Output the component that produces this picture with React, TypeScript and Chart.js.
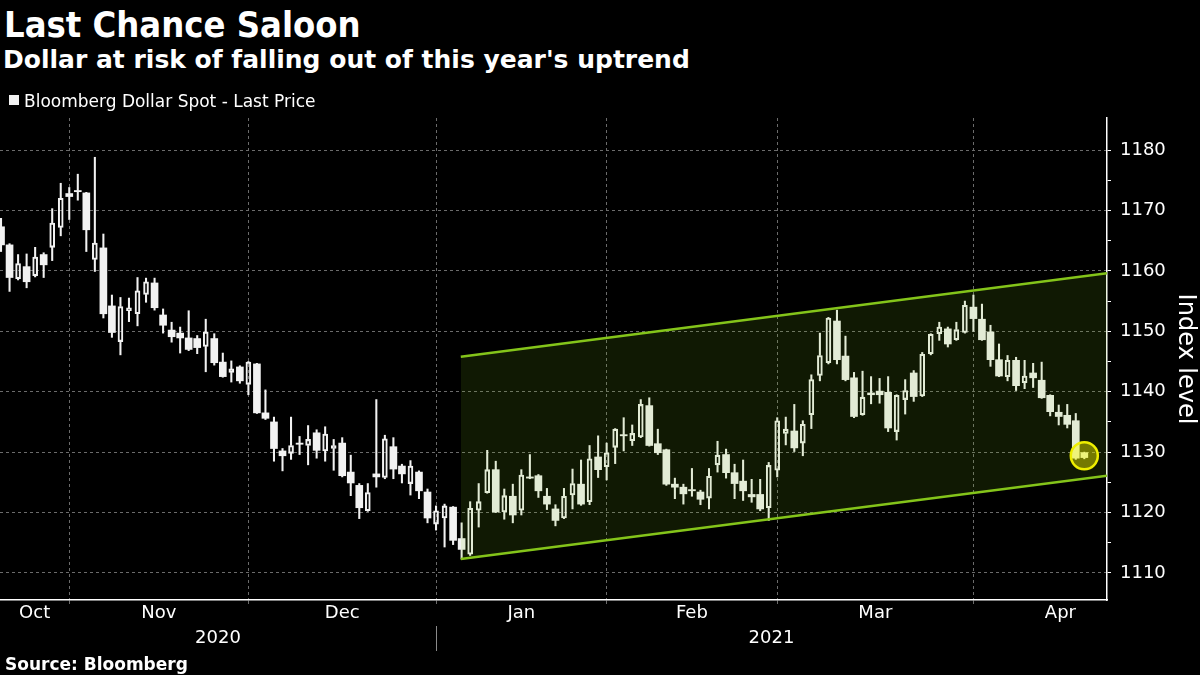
import { useEffect, useRef } from 'react';
import { Chart, registerables } from 'chart.js';

Chart.register(...registerables);

const FONT = "'DejaVu Sans', sans-serif";
const FONT_COND = "'DejaVu Sans Condensed', 'DejaVu Sans', sans-serif";
Chart.defaults.font.family = FONT;

// ---- Trading days (categories) ----
const daysOct2020 = ['21', '22', '23', '26', '27', '28', '29', '30'];
const daysNov2020 = ['02', '03', '04', '05', '06', '09', '10', '11', '12', '13', '16', '17', '18', '19', '20', '23', '24', '25', '26', '27', '30'];
const daysDec2020 = ['01', '02', '03', '04', '07', '08', '09', '10', '11', '14', '15', '16', '17', '18', '21', '22', '23', '24', '28', '29', '30', '31'];
const daysJan2021 = ['04', '05', '06', '07', '08', '11', '12', '13', '14', '15', '18', '19', '20', '21', '22', '25', '26', '27', '28', '29'];
const daysFeb2021 = ['01', '02', '03', '04', '05', '08', '09', '10', '11', '12', '15', '16', '17', '18', '19', '22', '23', '24', '25', '26'];
const daysMar2021 = ['01', '02', '03', '04', '05', '08', '09', '10', '11', '12', '15', '16', '17', '18', '19', '22', '23', '24', '25', '26', '29', '30', '31'];
const daysApr2021 = ['01', '02', '05', '06', '07', '08', '09', '12', '13', '14', '15', '16', '19', '20'];

const dates: string[] = [
  ...daysOct2020.map((d) => `2020-10-${d}`),
  ...daysNov2020.map((d) => `2020-11-${d}`),
  ...daysDec2020.map((d) => `2020-12-${d}`),
  ...daysJan2021.map((d) => `2021-01-${d}`),
  ...daysFeb2021.map((d) => `2021-02-${d}`),
  ...daysMar2021.map((d) => `2021-03-${d}`),
  ...daysApr2021.map((d) => `2021-04-${d}`),
];

// ---- Bloomberg Dollar Spot OHLC ----
const open = [
  1167.3, 1164.3, 1158.7, 1160.7, 1159.2, 1162.7, 1163.9, 1167.2, 1172.8, 1173.3,
  1172.9, 1161.9, 1163.8, 1154.2, 1148.3, 1153.4, 1152.9, 1156.1, 1158.0, 1152.7,
  1150.2, 1149.7, 1148.9, 1148.8, 1147.5, 1148.8, 1144.9, 1143.2, 1144.1, 1141.2,
  1144.6, 1136.5, 1135.0, 1130.2, 1129.8, 1131.5, 1131.1, 1133.2, 1130.2, 1130.6,
  1131.5, 1126.7, 1124.5, 1120.3, 1126.4, 1125.8, 1130.9, 1127.7, 1124.8, 1126.7,
  1123.4, 1118.1, 1119.1, 1120.9, 1115.7, 1113.1, 1120.4, 1123.3, 1127.1, 1120.1,
  1122.7, 1120.4, 1125.9, 1126.1, 1122.7, 1120.6, 1119.1, 1122.9, 1124.7, 1121.8,
  1129.2, 1127.6, 1130.8, 1132.9, 1131.9, 1132.5, 1137.7, 1131.4, 1130.4, 1124.7,
  1124.2, 1123.8, 1123.4, 1122.4, 1127.9, 1129.6, 1126.6, 1125.2, 1123.0, 1123.0,
  1120.8, 1127.0, 1133.1, 1133.5, 1131.5, 1136.2, 1142.7, 1144.8, 1151.7, 1145.9,
  1142.3, 1136.2, 1139.8, 1140.1, 1139.9, 1133.4, 1138.7, 1143.1, 1139.3, 1146.3,
  1149.6, 1150.4, 1148.6, 1149.8, 1154.0, 1152.0, 1149.9, 1145.3, 1142.5, 1145.2,
  1141.5, 1143.1, 1141.9, 1139.4, 1136.6, 1136.1, 1135.2, 1129.9,
];
const high = [
  1168.7, 1164.5, 1162.7, 1162.8, 1163.9, 1163.0, 1170.3, 1174.5, 1173.8, 1176.0,
  1173.0, 1178.8, 1166.1, 1156.0, 1155.6, 1155.5, 1158.9, 1158.8, 1158.8, 1153.7,
  1151.5, 1150.7, 1153.4, 1149.3, 1152.0, 1149.6, 1146.4, 1145.1, 1144.3, 1145.0,
  1144.7, 1140.3, 1135.8, 1130.6, 1135.8, 1132.6, 1134.4, 1133.7, 1134.2, 1132.1,
  1132.4, 1129.5, 1124.8, 1124.8, 1138.7, 1132.8, 1132.4, 1128.0, 1128.6, 1126.9,
  1123.9, 1121.1, 1121.4, 1121.0, 1118.3, 1121.8, 1124.8, 1130.3, 1128.5, 1123.9,
  1124.7, 1127.1, 1129.6, 1126.3, 1124.0, 1121.3, 1124.0, 1127.2, 1128.7, 1131.1,
  1132.7, 1131.5, 1133.9, 1135.7, 1134.5, 1138.7, 1139.0, 1133.8, 1130.5, 1125.7,
  1124.7, 1127.3, 1123.7, 1127.3, 1131.8, 1130.5, 1128.0, 1128.7, 1125.5, 1125.5,
  1128.3, 1135.7, 1135.8, 1137.9, 1135.2, 1142.8, 1149.7, 1152.3, 1153.5, 1149.2,
  1143.2, 1143.4, 1142.5, 1142.2, 1142.5, 1139.5, 1142.0, 1143.5, 1146.5, 1149.6,
  1151.5, 1150.7, 1151.5, 1155.0, 1156.0, 1154.5, 1151.0, 1147.9, 1146.0, 1145.7,
  1145.2, 1144.7, 1144.9, 1139.5, 1137.8, 1137.9, 1136.4, 1130.0,
];
const low = [
  1163.2, 1156.6, 1158.5, 1157.2, 1159.0, 1158.9, 1161.7, 1165.8, 1168.5, 1171.7,
  1163.2, 1159.9, 1152.2, 1149.0, 1146.1, 1151.6, 1150.9, 1154.8, 1153.5, 1149.7,
  1148.2, 1146.4, 1146.8, 1146.3, 1143.3, 1144.4, 1142.4, 1141.6, 1141.4, 1139.5,
  1136.4, 1135.4, 1128.5, 1126.9, 1128.8, 1129.6, 1127.9, 1129.0, 1128.5, 1127.0,
  1125.9, 1122.8, 1119.0, 1120.2, 1124.2, 1125.6, 1125.6, 1124.9, 1122.9, 1122.3,
  1118.3, 1117.1, 1114.3, 1114.7, 1112.3, 1112.9, 1117.6, 1123.2, 1120.0, 1118.9,
  1118.3, 1119.6, 1125.6, 1122.5, 1120.5, 1117.8, 1119.0, 1120.6, 1121.2, 1121.3,
  1125.8, 1125.4, 1128.1, 1130.2, 1131.1, 1132.4, 1131.0, 1129.6, 1124.5, 1122.3,
  1121.4, 1122.7, 1121.3, 1120.6, 1126.7, 1125.7, 1122.3, 1122.0, 1121.7, 1120.3,
  1118.7, 1125.9, 1131.2, 1130.1, 1129.4, 1133.9, 1141.8, 1144.6, 1144.6, 1141.8,
  1135.7, 1136.1, 1138.0, 1138.1, 1133.4, 1132.0, 1136.3, 1138.4, 1139.2, 1146.1,
  1148.5, 1147.4, 1148.5, 1149.7, 1150.0, 1148.5, 1144.2, 1142.5, 1141.8, 1140.2,
  1140.5, 1140.7, 1138.9, 1136.0, 1134.5, 1134.0, 1128.8, 1128.9,
];
const close = [
  1164.3, 1158.9, 1161.2, 1158.2, 1162.3, 1161.0, 1167.9, 1172.0, 1172.3, 1173.1,
  1166.8, 1164.6, 1152.9, 1149.8, 1154.1, 1153.9, 1156.7, 1158.2, 1153.9, 1151.0,
  1149.1, 1148.9, 1147.0, 1147.3, 1149.9, 1144.8, 1142.5, 1143.8, 1141.8, 1144.9,
  1136.5, 1135.6, 1130.6, 1129.4, 1131.1, 1131.3, 1132.1, 1130.3, 1133.0, 1131.1,
  1126.1, 1124.9, 1120.8, 1123.3, 1125.9, 1132.2, 1127.2, 1126.4, 1127.7, 1123.6,
  1119.1, 1120.3, 1121.1, 1115.4, 1113.9, 1120.7, 1121.8, 1127.1, 1120.1, 1122.8,
  1119.6, 1126.2, 1125.7, 1123.6, 1121.4, 1118.7, 1122.7, 1124.8, 1121.4, 1128.9,
  1127.1, 1129.9, 1133.8, 1132.7, 1133.1, 1137.9, 1131.1, 1129.9, 1124.7, 1124.2,
  1123.1, 1123.6, 1122.2, 1126.0, 1129.5, 1126.6, 1124.8, 1123.6, 1122.6, 1120.6,
  1127.8, 1135.2, 1133.8, 1130.7, 1134.6, 1142.0, 1146.0, 1152.2, 1145.3, 1142.0,
  1135.9, 1139.1, 1139.5, 1139.5, 1134.0, 1139.4, 1140.2, 1139.2, 1146.2, 1149.5,
  1150.7, 1147.9, 1150.3, 1154.3, 1152.1, 1148.6, 1145.3, 1142.6, 1145.2, 1141.0,
  1142.6, 1142.3, 1139.0, 1136.7, 1135.9, 1134.6, 1129.0, 1129.1,
];

// ---- Axis labels ----
const yTickValues = [1110, 1120, 1130, 1140, 1150, 1160, 1170, 1180];
const monthNames = ['Oct', 'Nov', 'Dec', 'Jan', 'Feb', 'Mar', 'Apr'];
const yearNames = ['2020', '2021'];

// ---- Uptrend channel (index, level) ----
const channelStartIndex = 53.9;
const channelUpper = [1145.8, 1159.6];
const channelLower = [1112.3, 1126.1];

// ---- Highlighted last price ----
const highlightIndex = 127;
const highlightLevel = 1129.4;

// ---- Scale window ----
const X_MIN = -0.12;
const X_MAX = 129.66;
const APRIL_END = 134.4;
const Y_MIN = 1105.53;
const Y_MAX = 1185.3;

const CANDLE = '#f2f2f2';
const GRID = '#6b6b6b';
const LINE_GREEN = '#84c41a';

const idx = dates.map((_, i) => i);
const isUp = idx.map((i) => close[i] > open[i]);
const bodyTop = idx.map((i) => Math.max(open[i], close[i]));
const bodyBottom = idx.map((i) => Math.min(open[i], close[i]));
const monthStarts = idx.filter((i) => i > 0 && dates[i].slice(0, 7) !== dates[i - 1].slice(0, 7));
const yearStart = idx.find((i) => dates[i].startsWith('2021')) as number;
const monthEdges = [X_MIN, ...monthStarts, APRIL_END];
const monthLabelPos = monthNames.map((_, k) => (monthEdges[k] + monthEdges[k + 1]) / 2);
const yearLabelPos = [(X_MIN + yearStart) / 2, yearStart, (yearStart + X_MAX) / 2];
const yMinorTicks: number[] = [];
yTickValues.forEach((v, k) => {
  yMinorTicks.push(v);
  if (k < yTickValues.length - 1) yMinorTicks.push((v + yTickValues[k + 1]) / 2);
});

const barCommon = {
  type: 'bar' as const,
  grouped: false,
  barPercentage: 1,
  categoryPercentage: 1,
  order: 2,
  xAxisID: 'x',
  yAxisID: 'y',
};

export default function App() {
  const canvasRef = useRef<HTMLCanvasElement>(null);

  useEffect(() => {
    document.body.style.margin = '0';
    document.body.style.background = '#000';
    const canvas = canvasRef.current;
    if (!canvas) return;

    const chart = new Chart(canvas, {
      type: 'bar',
      data: {
        datasets: [
          {
            type: 'line',
            label: 'Last price',
            data: [{ x: highlightIndex, y: highlightLevel }],
            showLine: false,
            pointRadius: 13.5,
            pointHoverRadius: 13.5,
            pointBorderWidth: 2.5,
            pointBackgroundColor: 'rgba(255,255,0,0.42)',
            pointBorderColor: '#eeee00',
            order: 0,
            xAxisID: 'x',
            yAxisID: 'y',
          },
          {
            type: 'line',
            label: 'Channel top',
            data: [
              { x: channelStartIndex, y: channelUpper[0] },
              { x: X_MAX, y: channelUpper[1] },
            ],
            borderColor: LINE_GREEN,
            borderWidth: 2.5,
            pointRadius: 0,
            fill: false,
            order: 1,
            xAxisID: 'x',
            yAxisID: 'y',
          },
          {
            type: 'line',
            label: 'Channel bottom',
            data: [
              { x: channelStartIndex, y: channelLower[0] },
              { x: X_MAX, y: channelLower[1] },
            ],
            borderColor: LINE_GREEN,
            borderWidth: 2.5,
            pointRadius: 0,
            fill: '-1',
            backgroundColor: 'rgba(125,195,25,0.13)',
            order: 1,
            xAxisID: 'x',
            yAxisID: 'y',
          },
          {
            ...barCommon,
            label: 'Upper wick',
            data: idx.map((i) => ({ x: i, y: [bodyTop[i], high[i]] })),
            backgroundColor: CANDLE,
            maxBarThickness: 1.4,
          },
          {
            ...barCommon,
            label: 'Lower wick',
            data: idx.map((i) => ({ x: i, y: [low[i], bodyBottom[i]] })),
            backgroundColor: CANDLE,
            maxBarThickness: 1.4,
          },
          {
            ...barCommon,
            label: 'Down',
            data: idx.filter((i) => !isUp[i]).map((i) => ({ x: i, y: [close[i], open[i]] })),
            backgroundColor: CANDLE,
            maxBarThickness: 7,
          },
          {
            ...barCommon,
            label: 'Up',
            data: idx.filter((i) => isUp[i]).map((i) => ({ x: i, y: [open[i], close[i]] })),
            backgroundColor: 'rgba(0,0,0,0)',
            borderColor: CANDLE,
            borderWidth: 1.4,
            borderSkipped: false,
            maxBarThickness: 5,
          },
        ] as any,
      },
      options: {
        responsive: false,
        animation: false,
        events: [],
        layout: { autoPadding: false, padding: { top: 24, left: 0, right: 0, bottom: 0 } },
        plugins: {
          legend: { display: false },
          tooltip: { enabled: false },
        },
        scales: {
          x: {
            type: 'linear',
            position: 'bottom',
            weight: 0,
            min: X_MIN,
            max: X_MAX,
            offset: false,
            afterBuildTicks: (s: any) => {
              s.ticks = monthStarts.map((v) => ({ value: v }));
            },
            afterFit: (s: any) => {
              s.height = 4;
            },
            grid: { color: GRID, tickColor: GRID, tickLength: 4, lineWidth: 1, offset: false },
            border: { display: true, color: '#ffffff', width: 1.5, dash: [3, 3] },
            ticks: { display: false },
          },
          xm: {
            type: 'linear',
            axis: 'x',
            position: 'bottom',
            weight: 1,
            min: X_MIN,
            max: X_MAX,
            offset: false,
            afterBuildTicks: (s: any) => {
              s.ticks = monthLabelPos.map((v) => ({ value: v }));
            },
            afterFit: (s: any) => {
              s.height = 22;
            },
            grid: { display: false, drawTicks: false, offset: false },
            border: { display: false },
            ticks: {
              autoSkip: false,
              maxRotation: 0,
              color: '#ffffff',
              padding: 0,
              font: { size: 18, lineHeight: 1 },
              callback: (_v: any, i: number) => monthNames[i],
            },
          },
          xy: {
            type: 'linear',
            axis: 'x',
            position: 'bottom',
            weight: 2,
            min: X_MIN,
            max: X_MAX,
            offset: false,
            afterBuildTicks: (s: any) => {
              s.ticks = yearLabelPos.map((v) => ({ value: v }));
            },
            afterFit: (s: any) => {
              s.height = 29;
            },
            grid: {
              drawOnChartArea: false,
              drawTicks: true,
              tickLength: 25,
              offset: false,
              color: (c: any) => (c.index === 1 ? '#8a8a8a' : 'rgba(0,0,0,0)'),
              tickColor: (c: any) => (c.index === 1 ? '#8a8a8a' : 'rgba(0,0,0,0)'),
            },
            border: { display: false },
            ticks: {
              autoSkip: false,
              maxRotation: 0,
              color: '#ffffff',
              padding: -22,
              font: { size: 18, lineHeight: 1 },
              callback: (_v: any, i: number) => (i === 0 ? yearNames[0] : i === 2 ? yearNames[1] : ''),
            },
          },
          y: {
            type: 'linear',
            position: 'right',
            min: Y_MIN,
            max: Y_MAX,
            beginAtZero: false,
            afterBuildTicks: (s: any) => {
              s.ticks = yMinorTicks.map((v) => ({ value: v }));
            },
            afterFit: (s: any) => {
              s.width = 93;
            },
            grid: {
              color: (c: any) => (c.tick && yTickValues.includes(c.tick.value) ? GRID : 'rgba(0,0,0,0)'),
              tickColor: '#ffffff',
              tickLength: 4,
              lineWidth: 1,
            },
            border: { display: true, color: '#ffffff', width: 1.5, dash: [3, 3] },
            ticks: {
              color: '#ffffff',
              padding: 9,
              font: { size: 18 },
              callback: (v: any) => (yTickValues.includes(Number(v)) ? String(v) : ''),
            },
            title: {
              display: true,
              text: 'Index level',
              color: '#ffffff',
              font: { size: 24 },
              padding: { top: 0, bottom: 0 },
            },
          },
        } as any,
      },
    });

    return () => chart.destroy();
  }, []);

  return (
    <div
      style={{
        position: 'relative',
        width: 1200,
        height: 675,
        background: '#000',
        overflow: 'hidden',
        fontFamily: FONT,
        color: '#ffffff',
      }}
    >
      <div style={{ position: 'absolute', left: 0, top: 94, width: 1200, height: 561 }}>
        <canvas ref={canvasRef} width={1200} height={561} style={{ display: 'block' }} />
      </div>
      <div
        style={{
          position: 'absolute',
          left: 4,
          top: 6.5,
          fontFamily: FONT_COND,
          fontStretch: 'condensed',
          fontSize: 36,
          fontWeight: 700,
          lineHeight: 1,
          whiteSpace: 'nowrap',
        }}
      >
        Last Chance Saloon
      </div>
      <div style={{ position: 'absolute', left: 3, top: 47, fontSize: 25, fontWeight: 700, lineHeight: 1, whiteSpace: 'nowrap' }}>
        Dollar at risk of falling out of this year's uptrend
      </div>
      <div style={{ position: 'absolute', left: 9, top: 95, width: 10, height: 10, background: '#f2f2f2' }} />
      <div style={{ position: 'absolute', left: 24, top: 92.6, fontSize: 17, lineHeight: 1, whiteSpace: 'nowrap' }}>
        Bloomberg Dollar Spot - Last Price
      </div>
      <div style={{ position: 'absolute', left: 5, top: 655.6, fontSize: 17, fontWeight: 700, lineHeight: 1, whiteSpace: 'nowrap' }}>
        Source: Bloomberg
      </div>
    </div>
  );
}
